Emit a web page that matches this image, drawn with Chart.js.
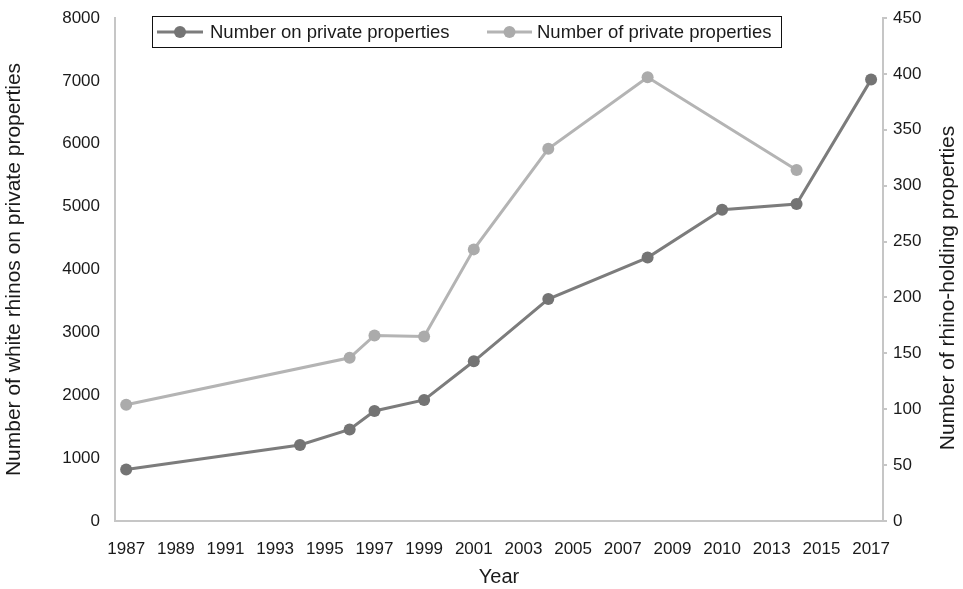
<!DOCTYPE html>
<html>
<head>
<meta charset="utf-8">
<script src="https://cdn.jsdelivr.net/npm/chart.js@4"></script>
<style>
html,body{margin:0;padding:0;background:#fff;}
#wrap{width:963px;height:589px;}
</style>
</head>
<body>
<div id="wrap"><canvas id="c" width="963" height="589"></canvas></div>
<script>
// ---- data ----
const rhinoYears = [1987, 1994, 1996, 1997, 1999, 2001, 2004, 2008, 2011, 2014, 2017];
const rhinoCounts = [820, 1210, 1455, 1750, 1925, 2540, 3530, 4190, 4950, 5040, 7020];
const propYears = [1987, 1996, 1997, 1999, 2001, 2004, 2008, 2014];
const propCounts = [104, 146, 166, 165, 243, 333, 397, 314];
const xTickValues = [1987, 1989, 1991, 1993, 1995, 1997, 1999, 2001, 2003, 2005, 2007, 2009, 2011, 2013, 2015, 2017];
const xTickLabels = ["1987", "1989", "1991", "1993", "1995", "1997", "1999", "2001", "2003", "2005", "2007", "2009", "2010", "2013", "2015", "2017"];
const seriesNames = ["Number on private properties", "Number of private properties"];
const leftTitle = "Number of white rhinos on private properties";
const rightTitle = "Number of rhino-holding properties";
const xTitle = "Year";

const DARK = '#7c7c7c', DARKPT = '#747474';
const LIGHT = '#b4b4b4', LIGHTPT = '#ababab';
const AXIS = '#c6c6c6';
const TEXT = '#1a1a1a';
const FONT = '"Liberation Sans", Arial, sans-serif';

const decorPlugin = {
  id: 'decor',
  afterDraw(chart) {
    const ctx = chart.ctx;
    ctx.save();
    // legend box
    ctx.fillStyle = '#fff';
    ctx.fillRect(152, 16, 630, 31);
    ctx.strokeStyle = '#111';
    ctx.lineWidth = 1;
    ctx.strokeRect(152.5, 16.5, 629, 31);
    const items = [
      {x0: 157, x1: 203, color: DARK, pt: DARKPT, tx: 210, label: seriesNames[0]},
      {x0: 487, x1: 532, color: LIGHT, pt: LIGHTPT, tx: 537, label: seriesNames[1]}
    ];
    const y = 32;
    items.forEach(it => {
      ctx.strokeStyle = it.color;
      ctx.lineWidth = 3;
      ctx.beginPath(); ctx.moveTo(it.x0, y); ctx.lineTo(it.x1, y); ctx.stroke();
      ctx.fillStyle = it.pt;
      ctx.beginPath(); ctx.arc((it.x0 + it.x1) / 2, y, 6, 0, Math.PI * 2); ctx.fill();
      ctx.fillStyle = TEXT;
      ctx.font = '18.5px ' + FONT;
      ctx.textBaseline = 'middle';
      ctx.textAlign = 'left';
      ctx.fillText(it.label, it.tx, y + 1);
    });
    // right axis title, reading bottom-to-top
    ctx.translate(948, 288);
    ctx.rotate(-Math.PI / 2);
    ctx.font = '21px ' + FONT;
    ctx.textAlign = 'center';
    ctx.textBaseline = 'middle';
    ctx.fillStyle = TEXT;
    ctx.fillText(rightTitle, 0, 0);
    ctx.restore();
  }
};

new Chart(document.getElementById('c'), {
  type: 'line',
  data: {
    datasets: [
      {
        label: seriesNames[0],
        data: rhinoYears.map((x, i) => ({x: x, y: rhinoCounts[i]})),
        borderColor: DARK, backgroundColor: DARKPT,
        pointBackgroundColor: DARKPT, pointBorderColor: DARKPT,
        borderWidth: 3, pointRadius: 6, pointBorderWidth: 0,
        tension: 0, yAxisID: 'y'
      },
      {
        label: seriesNames[1],
        data: propYears.map((x, i) => ({x: x, y: propCounts[i]})),
        borderColor: LIGHT, backgroundColor: LIGHTPT,
        pointBackgroundColor: LIGHTPT, pointBorderColor: LIGHTPT,
        borderWidth: 3, pointRadius: 6, pointBorderWidth: 0,
        tension: 0, yAxisID: 'y2'
      }
    ]
  },
  options: {
    responsive: false,
    animation: false,
    devicePixelRatio: 1,
    layout: {padding: {top: 18, right: 0, left: 0, bottom: 0}},
    plugins: {legend: {display: false}, tooltip: {enabled: false}},
    scales: {
      x: {
        type: 'linear',
        min: 1986.55, max: 2017.48,
        afterBuildTicks(s) { s.ticks = xTickValues.map(v => ({value: v})); },
        afterFit(s) { s.height = 68; s.paddingLeft = 0; s.paddingRight = 0; },
        ticks: {
          autoSkip: false, maxRotation: 0, padding: 18,
          color: TEXT, font: {family: FONT, size: 17},
          callback(v) { const i = xTickValues.indexOf(v); return i >= 0 ? xTickLabels[i] : ''; }
        },
        grid: {display: false, drawTicks: false},
        border: {display: true, color: AXIS, width: 2},
        title: {display: true, text: xTitle, color: TEXT, font: {family: FONT, size: 20}, padding: {top: 1, bottom: 0}}
      },
      y: {
        position: 'left',
        min: 0, max: 8000,
        afterFit(s) { s.width = 115; s.paddingTop = 0; s.paddingBottom = 0; },
        ticks: {stepSize: 1000, padding: 15, color: TEXT, font: {family: FONT, size: 17},
          callback(v) { return String(v); }},
        grid: {display: false, drawTicks: false},
        border: {display: true, color: AXIS, width: 2},
        title: {display: true, text: leftTitle, color: TEXT, font: {family: FONT, size: 21}, padding: {top: 2, bottom: 0}}
      },
      y2: {
        position: 'right',
        min: 0, max: 450,
        afterFit(s) { s.width = 80; s.paddingTop = 0; s.paddingBottom = 0; },
        ticks: {stepSize: 50, padding: 6, color: TEXT, font: {family: FONT, size: 17}},
        grid: {display: true, drawOnChartArea: false, drawTicks: true, tickLength: 4, color: AXIS, lineWidth: 2},
        border: {display: true, color: AXIS, width: 2},
        title: {display: false}
      }
    }
  },
  plugins: [decorPlugin]
});
</script>
</body>
</html>
